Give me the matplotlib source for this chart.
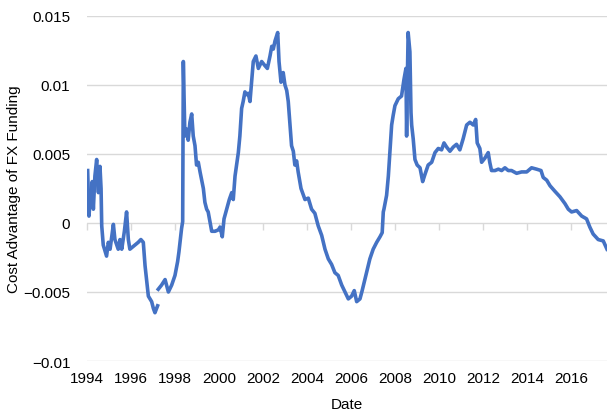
import numpy as np
import matplotlib
matplotlib.use("Agg")
import matplotlib.pyplot as plt

plt.rcParams['font.family'] = ['Liberation Sans', 'DejaVu Sans']

# decimal year, cost advantage (nan = gap in the data)
years = [
    1994.03, 1994.09, 1994.15, 1994.21, 1994.24, 1994.29, 1994.36, 1994.44, 1994.52, 1994.59,
    1994.64, 1994.67, 1994.74, 1994.89, 1994.97, 1995.05, 1995.20, 1995.27, 1995.42, 1995.50,
    1995.58, 1995.70, 1995.80, 1995.88, 1995.95, 1996.10, 1996.33, 1996.45, 1996.56, 1996.64,
    1996.79, 1996.94, 1997.02, 1997.09, 1997.21, 1997.22, 1997.24, 1997.39, 1997.55, 1997.70,
    1997.85, 1998.00, 1998.12, 1998.18, 1998.30, 1998.35, 1998.38, 1998.45, 1998.53, 1998.60,
    1998.68, 1998.76, 1998.83, 1998.91, 1998.98, 1999.06, 1999.14, 1999.29, 1999.36, 1999.44,
    1999.51, 1999.59, 1999.67, 1999.82, 1999.97, 2000.05, 2000.15, 2000.23, 2000.35, 2000.47,
    2000.58, 2000.65, 2000.73, 2000.80, 2000.88, 2000.95, 2001.03, 2001.10, 2001.18, 2001.26,
    2001.33, 2001.41, 2001.49, 2001.56, 2001.68, 2001.79, 2001.94, 2002.09, 2002.20, 2002.32,
    2002.40, 2002.47, 2002.55, 2002.67, 2002.73, 2002.82, 2002.92, 2003.00, 2003.08, 2003.15,
    2003.23, 2003.30, 2003.38, 2003.45, 2003.53, 2003.60, 2003.73, 2003.91, 2004.06, 2004.21,
    2004.36, 2004.51, 2004.67, 2004.82, 2004.97, 2005.12, 2005.27, 2005.42, 2005.58, 2005.73,
    2005.88, 2006.03, 2006.15, 2006.26, 2006.41, 2006.51, 2006.60, 2006.71, 2006.86, 2007.01,
    2007.17, 2007.32, 2007.42, 2007.47, 2007.50, 2007.62, 2007.70, 2007.77, 2007.85, 2007.92,
    2008.00, 2008.15, 2008.30, 2008.41, 2008.50, 2008.53, 2008.57, 2008.60, 2008.68, 2008.73,
    2008.76, 2008.83, 2008.91, 2009.01, 2009.14, 2009.26, 2009.36, 2009.51, 2009.67, 2009.82,
    2009.97, 2010.12, 2010.23, 2010.35, 2010.50, 2010.65, 2010.80, 2010.95, 2011.10, 2011.26,
    2011.41, 2011.56, 2011.67, 2011.74, 2011.86, 2011.94, 2012.09, 2012.24, 2012.31, 2012.39,
    2012.55, 2012.70, 2012.85, 2013.00, 2013.15, 2013.30, 2013.53, 2013.76, 2013.99, 2014.21,
    2014.44, 2014.64, 2014.74, 2014.90, 2015.05, 2015.27, 2015.50, 2015.73, 2015.88, 2016.03,
    2016.26, 2016.49, 2016.71, 2016.86, 2017.01, 2017.24, 2017.47, 2017.64,
]
advantage = [
    0.0038, 0.0005, 0.0018, 0.0020, 0.0030, 0.0010, 0.0034, 0.0046, 0.0022, 0.0041,
    0.0025, -0.0002, -0.0016, -0.0024, -0.0014, -0.0019, -0.0001, -0.0012, -0.0019, -0.0012,
    -0.0019, -0.0006, 0.0008, -0.0012, -0.0019, -0.0017, -0.0014, -0.0012, -0.0014, -0.0031,
    -0.0053, -0.0057, -0.0062, -0.0065, -0.0060, np.nan, -0.0048, -0.0045, -0.0041, -0.0050,
    -0.0045, -0.0038, -0.0028, -0.0021, -0.0004, 0.0001, 0.0117, 0.0063, 0.0068, 0.0060,
    0.0073, 0.0079, 0.0063, 0.0056, 0.0042, 0.0044, 0.0037, 0.0025, 0.0015, 0.0010,
    0.0008, 0.0001, -0.0006, -0.0006, -0.0005, -0.0003, -0.0010, 0.0003, 0.0010, 0.0017,
    0.0022, 0.0017, 0.0034, 0.0042, 0.0051, 0.0063, 0.0083, 0.0088, 0.0095, 0.0093,
    0.0094, 0.0088, 0.0104, 0.0117, 0.0121, 0.0112, 0.0117, 0.0114, 0.0112, 0.0121,
    0.0128, 0.0126, 0.0132, 0.0138, 0.0117, 0.0102, 0.0109, 0.0100, 0.0096, 0.0088,
    0.0071, 0.0056, 0.0052, 0.0042, 0.0045, 0.0037, 0.0025, 0.0017, 0.0018, 0.0010,
    0.0007, -0.0002, -0.0009, -0.0019, -0.0026, -0.0030, -0.0036, -0.0038, -0.0045, -0.0050,
    -0.0055, -0.0053, -0.0049, -0.0057, -0.0055, -0.0049, -0.0043, -0.0036, -0.0026, -0.0019,
    -0.0014, -0.0010, -0.0007, 0.0008, 0.0010, 0.0020, 0.0034, 0.0051, 0.0071, 0.0078,
    0.0085, 0.0090, 0.0092, 0.0104, 0.0112, 0.0063, 0.0110, 0.0138, 0.0124, 0.0080,
    0.0071, 0.0061, 0.0046, 0.0042, 0.0040, 0.0030, 0.0035, 0.0042, 0.0044, 0.0051,
    0.0054, 0.0053, 0.0058, 0.0055, 0.0052, 0.0055, 0.0057, 0.0053, 0.0061, 0.0071,
    0.0073, 0.0071, 0.0075, 0.0058, 0.0054, 0.0044, 0.0047, 0.0051, 0.0044, 0.0038,
    0.0038, 0.0039, 0.0038, 0.0040, 0.0038, 0.0038, 0.0036, 0.0037, 0.0037, 0.0040,
    0.0039, 0.0038, 0.0033, 0.0031, 0.0027, 0.0023, 0.0019, 0.0014, 0.0010, 0.0008,
    0.0009, 0.0005, 0.0003, -0.0003, -0.0008, -0.0012, -0.0013, -0.0019,
]

xticks = list(range(1994, 2017, 2))
yticks = [-0.01, -0.005, 0, 0.005, 0.01, 0.015]
ytick_labels = ["\u22120.01", "\u22120.005", "0", "0.005", "0.01", "0.015"]

fig = plt.figure(figsize=(6.07, 4.14), dpi=100)
ax = fig.add_axes([0.1433, 0.1256, 0.8567, 0.8334])

ax.plot(years, advantage, color="#4472C4", linewidth=2.6, solid_joinstyle="round")

ax.set_xlim(1994, 2017.64)
ax.set_ylim(-0.01, 0.015)
ax.set_yticks(yticks)
ax.set_yticklabels(ytick_labels)
ax.set_xticks(xticks)
ax.set_xticklabels([str(t) for t in xticks])
ax.grid(axis="y", color="#d9d9d9", linewidth=1)
ax.set_axisbelow(True)
for s in ax.spines.values():
    s.set_visible(False)
ax.tick_params(axis="both", length=0, labelsize=11, colors="black")
ax.tick_params(axis="y", pad=12)
ax.tick_params(axis="x", pad=7)

# small tick marks where the category axis crosses at zero
sec = ax.secondary_xaxis(0.4)
sec.set_xticks(xticks)
sec.set_xticklabels([])
sec.spines["bottom"].set_visible(False)
sec.tick_params(length=5, color="#d9d9d9", width=1, direction="out")

ax.set_xlabel("Date", fontsize=11)
ax.set_ylabel("Cost Advantage of FX Funding", fontsize=11)
ax.xaxis.set_label_coords(0.5, -0.103)
ax.yaxis.set_label_coords(-0.127, 0.5)

fig.savefig("out.png", dpi=100)
